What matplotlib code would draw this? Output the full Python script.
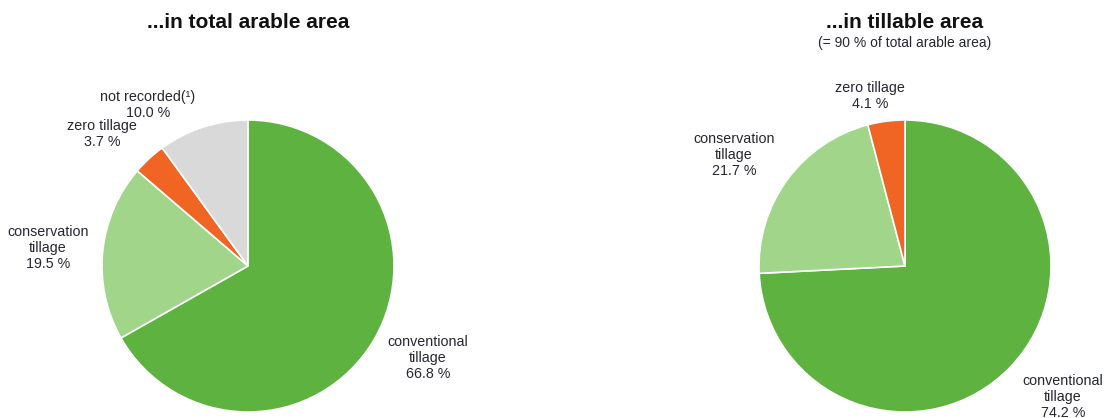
import matplotlib
matplotlib.use("Agg")
import matplotlib.pyplot as plt

plt.rcParams["font.family"] = ["Liberation Sans", "DejaVu Sans"]

# Shares of arable area by tillage practice (%)
total_categories = ["conventional\ntillage", "conservation\ntillage", "zero tillage", "not recorded(¹)"]
total_values = [66.8, 19.5, 3.7, 10.0]

tillable_categories = ["conventional\ntillage", "conservation\ntillage", "zero tillage"]
tillable_values = [74.2, 21.7, 4.1]

colors = {
    "conventional\ntillage": "#5eb23f",
    "conservation\ntillage": "#a0d58a",
    "zero tillage": "#f06424",
    "not recorded(¹)": "#d9d9d9",
}

W, H = 1104, 418
fig = plt.figure(figsize=(W / 100, H / 100), dpi=100)
ax = fig.add_axes([0, 0, 1, 1])

text_color = "#262633"
R = 146


def draw_pie(cx, cy, cats, vals, label_pos):
    ax.pie(vals, colors=[colors[c] for c in cats], startangle=90, counterclock=False,
           center=(cx, cy), radius=R, frame=True,
           wedgeprops=dict(edgecolor="white", linewidth=1.2))
    for cat, val in zip(cats, vals):
        x, y = label_pos[cat]
        ax.text(x, H - y, f"{cat}\n{val:.1f} %", ha="center", va="top",
                fontsize=10.3, color=text_color, linespacing=1.2)


draw_pie(248, H - 266, total_categories, total_values, {
    "conventional\ntillage": (428, 335),
    "conservation\ntillage": (48, 225),
    "zero tillage": (102, 119),
    "not recorded(¹)": (148, 90),
})
draw_pie(905, H - 266, tillable_categories, tillable_values, {
    "conventional\ntillage": (1063, 374),
    "conservation\ntillage": (734, 132),
    "zero tillage": (870, 81),
})
ax.set_xlim(0, W)
ax.set_ylim(0, H)
ax.set_aspect("equal")
ax.axis("off")

ax.text(248, H - 23, "...in total arable area", ha="center", va="center",
        fontsize=15, fontweight="bold", color="#111111")
ax.text(905, H - 23, "...in tillable area", ha="center", va="center",
        fontsize=15, fontweight="bold", color="#111111")
ax.text(905, H - 43, "(= 90 % of total arable area)", ha="center", va="center",
        fontsize=10, color=text_color)

fig.savefig("out.png", dpi=100)
